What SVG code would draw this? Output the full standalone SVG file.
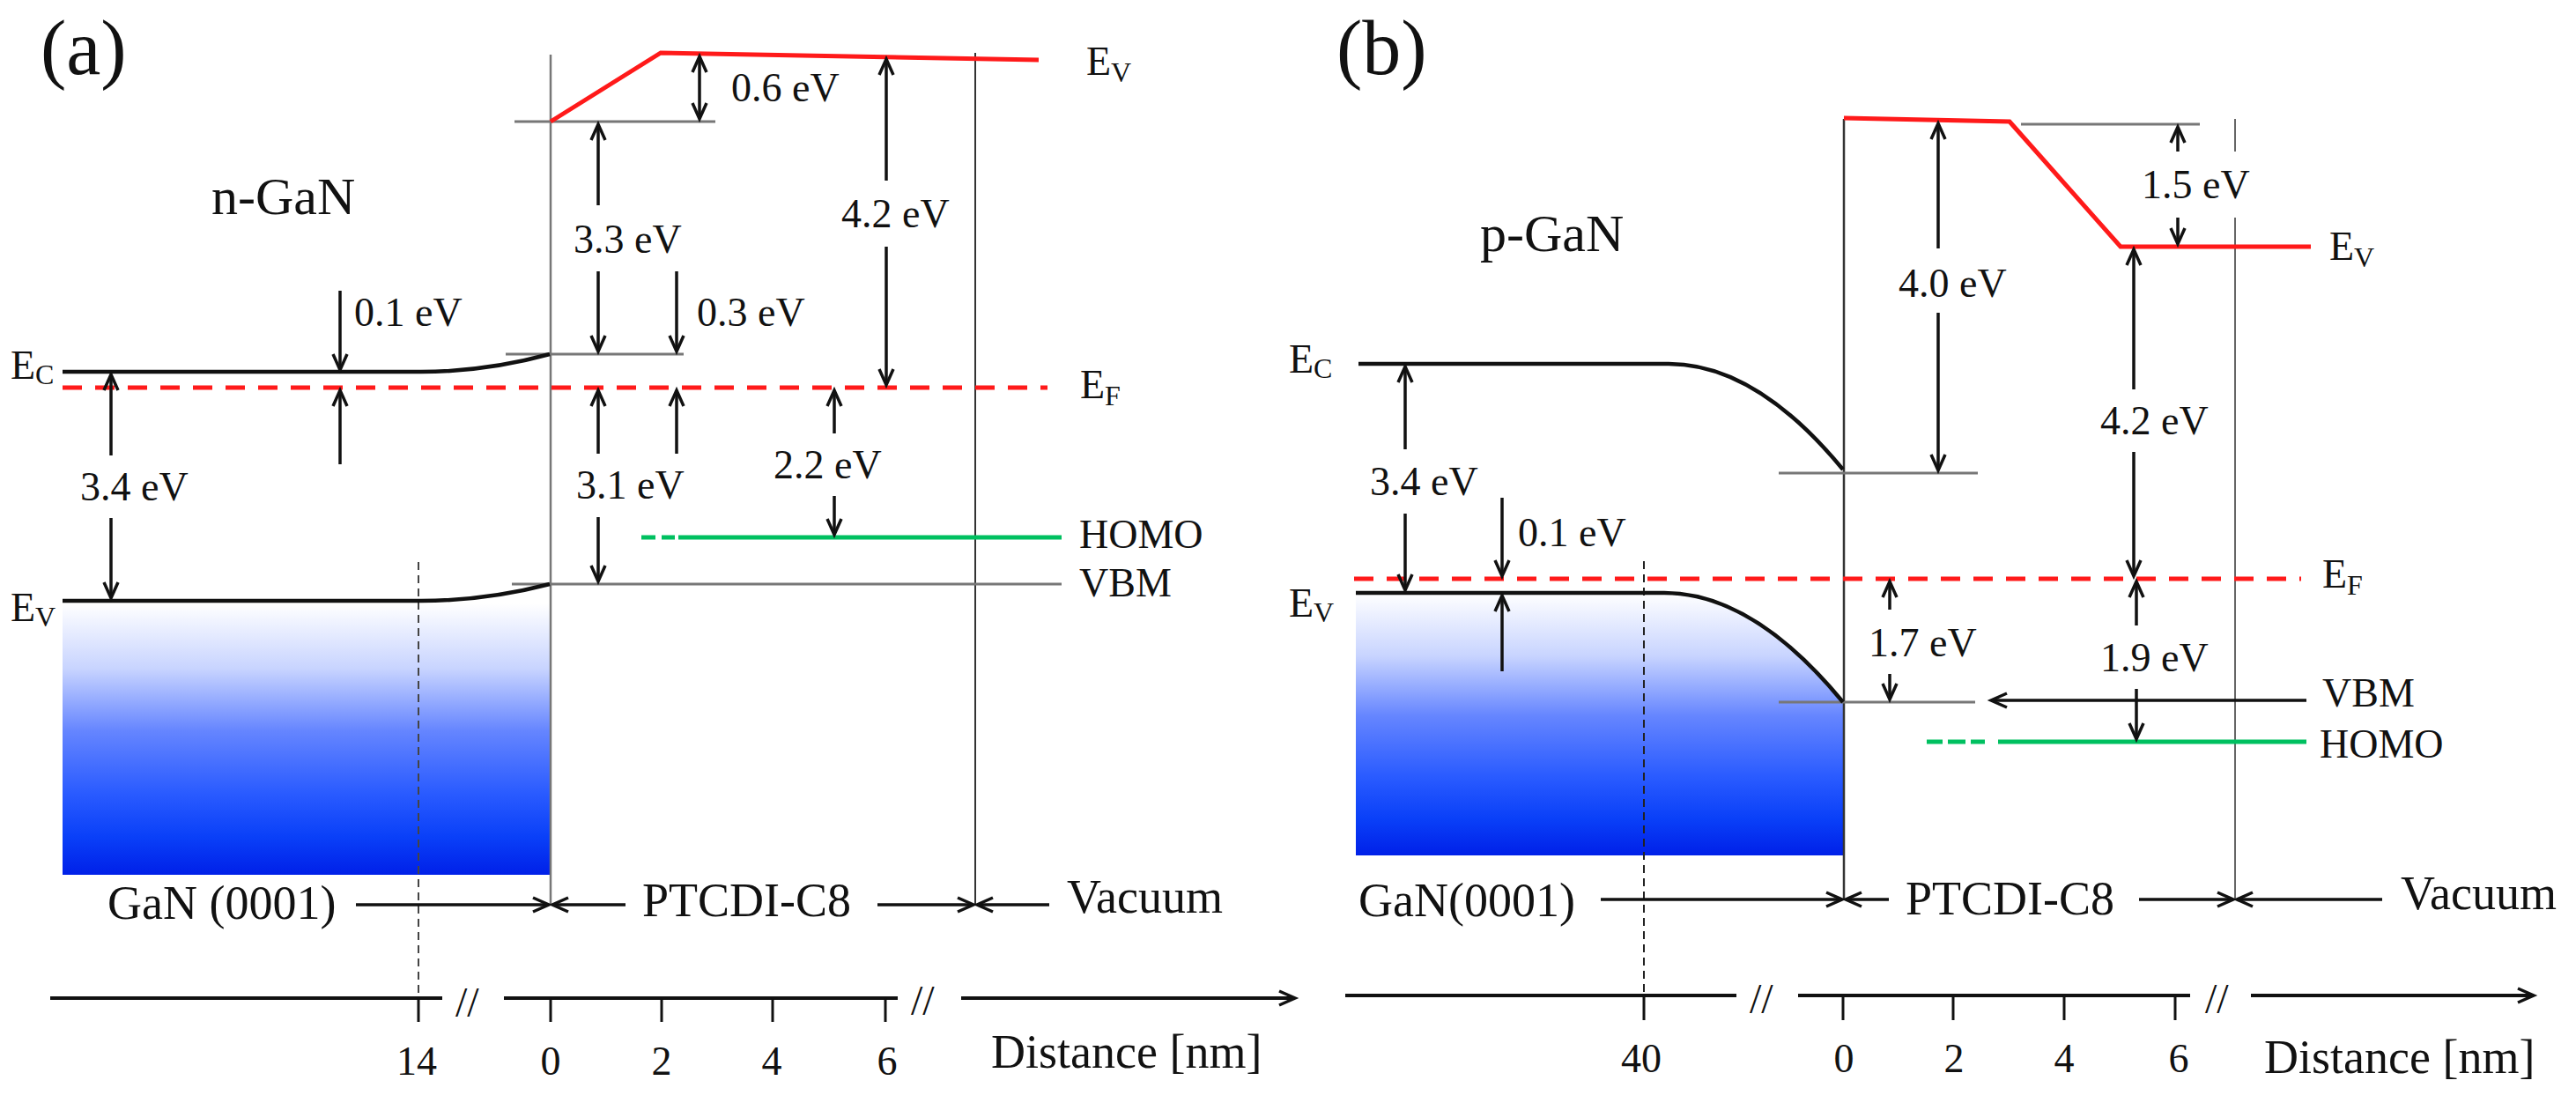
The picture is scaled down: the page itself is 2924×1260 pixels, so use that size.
<svg xmlns="http://www.w3.org/2000/svg" width="2924" height="1260" viewBox="0 0 2924 1260">
<style>
.t{font-family:"Liberation Serif","Times New Roman",serif;fill:#111}
.ev{font-size:46px}
.lab{font-size:54px}
.big{font-size:88px}
.gan{font-size:60px}
.sub{font-size:32px}
.tk{font-size:46px;text-anchor:middle}
.band{fill:none;stroke:#111;stroke-width:4.5}
.lvl{fill:none;stroke:#777;stroke-width:3}
.ifc{fill:none;stroke:#777;stroke-width:2.5}
.vac{fill:none;stroke:#333;stroke-width:2}
.red{fill:none;stroke:#ff1a1a;stroke-width:5}
.ef{fill:none;stroke:#ff1a1a;stroke-width:5;stroke-dasharray:22 15}
.homo{fill:none;stroke:#00c060;stroke-width:5}
.dv{fill:none;stroke:#444;stroke-width:2;stroke-dasharray:9 6}
.ar{fill:none;stroke:#111;stroke-width:3.5;marker-end:url(#ah)}
.ar2{fill:none;stroke:#111;stroke-width:3.5;marker-end:url(#ah);marker-start:url(#ah)}
.ax{fill:none;stroke:#111;stroke-width:4}
.tick{fill:none;stroke:#111;stroke-width:3}
</style>
<defs>
<marker id="ah" markerUnits="userSpaceOnUse" markerWidth="30" markerHeight="30" viewBox="-25 -15 30 30" refX="0" refY="0" orient="auto-start-reverse" overflow="visible">
<path d="M-18,-8 L0,0 L-18,8" fill="none" stroke="#111" stroke-width="3.5"/>
</marker>
<linearGradient id="gA" gradientUnits="userSpaceOnUse" x1="0" y1="685" x2="0" y2="993">
<stop offset="0" stop-color="#ffffff"/><stop offset="0.24" stop-color="#c8d4ff"/><stop offset="0.47" stop-color="#6585ff"/><stop offset="0.7" stop-color="#2a5bff"/><stop offset="0.86" stop-color="#0a40f8"/><stop offset="1" stop-color="#0020e8"/>
</linearGradient>
<linearGradient id="gB" gradientUnits="userSpaceOnUse" x1="0" y1="673" x2="0" y2="971">
<stop offset="0" stop-color="#ffffff"/><stop offset="0.24" stop-color="#c8d4ff"/><stop offset="0.47" stop-color="#6585ff"/><stop offset="0.7" stop-color="#2a5bff"/><stop offset="0.86" stop-color="#0a40f8"/><stop offset="1" stop-color="#0020e8"/>
</linearGradient>
</defs>
<rect width="2924" height="1260" fill="#fff"/>

<!-- ============ Panel (a) ============ -->
<g id="panel-a">
<g id="a-gan-region">
<rect x="71" y="685" width="553" height="308" fill="url(#gA)"/>
<line class="dv" x1="475" y1="638" x2="475" y2="1160"/>
</g>
<g id="a-interfaces">
<line class="ifc" x1="625" y1="62" x2="625" y2="1027"/>
<line class="vac" x1="1107" y1="60" x2="1107" y2="1027"/>
</g>
<g id="a-levels">
<line class="lvl" x1="584" y1="138" x2="812" y2="138"/>
<line class="lvl" x1="574" y1="402" x2="776" y2="402"/>
<line class="lvl" x1="581" y1="663" x2="1205" y2="663"/>
<path class="band" d="M71,422 L478,422 Q551,422 624,402"/>
<path class="band" d="M71,682 L478,682 Q551,682 624,663"/>
<polyline class="red" points="625,138 750,60 1179,68"/>
<line class="ef" x1="71" y1="440" x2="1189" y2="440"/>
<line class="homo" x1="770" y1="610" x2="1205" y2="610"/>
<line class="homo" x1="728" y1="610" x2="744" y2="610"/>
<line class="homo" x1="751" y1="610" x2="766" y2="610"/>
</g>
<g id="a-labels">
<text class="t big" x="46" y="84">(a)</text>
<text class="t gan" x="240" y="243">n-GaN</text>
<text class="t ev" x="12" y="430">E<tspan class="sub" dy="6">C</tspan></text>
<text class="t ev" x="12" y="705">E<tspan class="sub" dy="6">V</tspan></text>
<text class="t ev" x="1233" y="85">E<tspan class="sub" dy="8">V</tspan></text>
<text class="t ev" x="1226" y="452">E<tspan class="sub" dy="8">F</tspan></text>
<text class="t ev" x="1225" y="622">HOMO</text>
<text class="t ev" x="1225" y="677">VBM</text>
<text class="t ev" x="402" y="370">0.1 eV</text>
<text class="t ev" x="91" y="568">3.4 eV</text>
<text class="t ev" x="651" y="287">3.3 eV</text>
<text class="t ev" x="830" y="115">0.6 eV</text>
<text class="t ev" x="955" y="258">4.2 eV</text>
<text class="t ev" x="791" y="370">0.3 eV</text>
<text class="t ev" x="654" y="566">3.1 eV</text>
<text class="t ev" x="878" y="543">2.2 eV</text>
<text class="t lab" x="122" y="1043">GaN (0001)</text>
<text class="t lab" x="729" y="1040">PTCDI-C8</text>
<text class="t lab" x="1211" y="1036">Vacuum</text>
</g>
<g id="a-axis">
<line class="ax" x1="57" y1="1133" x2="502" y2="1133"/>
<line class="ax" x1="572" y1="1133" x2="1019" y2="1133"/>
<line class="ax" x1="1091" y1="1133" x2="1470" y2="1133" style="marker-end:url(#ah)"/>
<text class="t" x="1034" y="1152" font-size="48">//</text>
<text class="t" x="517" y="1154" font-size="48">//</text>
<line class="tick" x1="475" y1="1133" x2="475" y2="1160"/>
<line class="tick" x1="625" y1="1133" x2="625" y2="1160"/>
<line class="tick" x1="751" y1="1133" x2="751" y2="1160"/>
<line class="tick" x1="877" y1="1133" x2="877" y2="1160"/>
<line class="tick" x1="1005" y1="1133" x2="1005" y2="1160"/>
<text class="t tk" x="473" y="1220">14</text>
<text class="t tk" x="625" y="1220">0</text>
<text class="t tk" x="751" y="1220">2</text>
<text class="t tk" x="876" y="1220">4</text>
<text class="t tk" x="1007" y="1220">6</text>
<text class="t lab" x="1125" y="1212">Distance [nm]</text>
</g>
</g>

<!-- ============ Panel (b) ============ -->
<g id="panel-b">
<g id="b-gan-region">
<path d="M1539,673 L1889,673 Q1990,673 2092,797 L2092,971 L1539,971 Z" fill="url(#gB)"/>
<line class="dv" x1="1866" y1="637" x2="1866" y2="1158" style="stroke:#222"/>
</g>
<g id="b-interfaces">
<line class="ifc" x1="2093" y1="135" x2="2093" y2="1022" style="stroke:#333"/>
<line class="ifc" x1="2537" y1="135" x2="2537" y2="172" style="stroke:#666;stroke-width:2"/>
<line class="ifc" x1="2537" y1="247" x2="2537" y2="1022" style="stroke:#666;stroke-width:2"/>
</g>
<g id="b-levels">
<line class="lvl" x1="2294" y1="141" x2="2497" y2="141"/>
<line class="lvl" x1="2019" y1="537" x2="2245" y2="537"/>
<line class="lvl" x1="2019" y1="797" x2="2242" y2="797"/>
<path class="band" d="M1542,413 L1894,413 Q1993,413 2092,533"/>
<path class="band" d="M1539,673 L1889,673 Q1990,673 2092,797"/>
<polyline class="red" points="2093,134 2281,138 2407,280 2623,280"/>
<line class="ef" x1="1537" y1="657" x2="2612" y2="657"/>
<line class="homo" x1="2268" y1="842" x2="2618" y2="842"/>
<line class="homo" x1="2187" y1="842" x2="2205" y2="842"/>
<line class="homo" x1="2211" y1="842" x2="2231" y2="842"/>
<line class="homo" x1="2237" y1="842" x2="2253" y2="842"/>
</g>
<g id="b-labels">
<text class="t big" x="1517" y="84">(b)</text>
<text class="t gan" x="1680" y="285">p-GaN</text>
<text class="t ev" x="1463" y="423">E<tspan class="sub" dy="6">C</tspan></text>
<text class="t ev" x="1463" y="700">E<tspan class="sub" dy="6">V</tspan></text>
<text class="t ev" x="2644" y="295">E<tspan class="sub" dy="8">V</tspan></text>
<text class="t ev" x="2636" y="667">E<tspan class="sub" dy="8">F</tspan></text>
<text class="t ev" x="2636" y="802">VBM</text>
<text class="t ev" x="2633" y="860">HOMO</text>
<text class="t ev" x="1555" y="562">3.4 eV</text>
<text class="t ev" x="1723" y="620">0.1 eV</text>
<text class="t ev" x="2155" y="337">4.0 eV</text>
<text class="t ev" x="2431" y="225">1.5 eV</text>
<text class="t ev" x="2384" y="493">4.2 eV</text>
<text class="t ev" x="2121" y="745">1.7 eV</text>
<text class="t ev" x="2384" y="762">1.9 eV</text>
<text class="t lab" x="1542" y="1040">GaN(0001)</text>
<text class="t lab" x="2163" y="1038">PTCDI-C8</text>
<text class="t lab" x="2725" y="1032">Vacuum</text>
</g>
<g id="b-axis">
<line class="ax" x1="1527" y1="1130" x2="1971" y2="1130"/>
<line class="ax" x1="2041" y1="1130" x2="2486" y2="1130"/>
<line class="ax" x1="2555" y1="1130" x2="2876" y2="1130" style="marker-end:url(#ah)"/>
<text class="t" x="1986" y="1150" font-size="48">//</text>
<text class="t" x="2503" y="1150" font-size="48">//</text>
<line class="tick" x1="1866" y1="1130" x2="1866" y2="1158"/>
<line class="tick" x1="2092" y1="1130" x2="2092" y2="1158"/>
<line class="tick" x1="2217" y1="1130" x2="2217" y2="1158"/>
<line class="tick" x1="2343" y1="1130" x2="2343" y2="1158"/>
<line class="tick" x1="2469" y1="1130" x2="2469" y2="1158"/>
<text class="t tk" x="1863" y="1217">40</text>
<text class="t tk" x="2093" y="1217">0</text>
<text class="t tk" x="2218" y="1217">2</text>
<text class="t tk" x="2343" y="1217">4</text>
<text class="t tk" x="2473" y="1217">6</text>
<text class="t lab" x="2570" y="1218">Distance [nm]</text>
</g>
</g>

<!-- ============ Connectors (dimension arrows) ============ -->
<g id="connectors">
<!-- panel a -->
<line class="ar" x1="386" y1="330" x2="386" y2="420"/>
<line class="ar" x1="386" y1="527" x2="386" y2="443"/>
<line class="ar" x1="126" y1="517" x2="126" y2="425"/>
<line class="ar" x1="126" y1="588" x2="126" y2="679"/>
<line class="ar" x1="679" y1="233" x2="679" y2="141"/>
<line class="ar" x1="679" y1="308" x2="679" y2="399"/>
<line class="ar" x1="768" y1="308" x2="768" y2="399"/>
<line class="ar" x1="768" y1="515" x2="768" y2="443"/>
<line class="ar" x1="679" y1="515" x2="679" y2="443"/>
<line class="ar" x1="679" y1="587" x2="679" y2="660"/>
<line class="ar2" x1="794" y1="64" x2="794" y2="135"/>
<line class="ar" x1="1006" y1="205" x2="1006" y2="67"/>
<line class="ar" x1="1006" y1="280" x2="1006" y2="437"/>
<line class="ar" x1="947" y1="492" x2="947" y2="443"/>
<line class="ar" x1="947" y1="563" x2="947" y2="607"/>
<line class="ar" x1="404" y1="1027" x2="623" y2="1027"/>
<line class="ar" x1="710" y1="1027" x2="627" y2="1027"/>
<line class="ar" x1="996" y1="1027" x2="1105" y2="1027"/>
<line class="ar" x1="1191" y1="1027" x2="1109" y2="1027"/>
<!-- panel b -->
<line class="ar" x1="1595" y1="510" x2="1595" y2="416"/>
<line class="ar" x1="1595" y1="583" x2="1595" y2="670"/>
<line class="ar" x1="1705" y1="565" x2="1705" y2="654"/>
<line class="ar" x1="1705" y1="762" x2="1705" y2="676"/>
<line class="ar" x1="2200" y1="282" x2="2200" y2="140"/>
<line class="ar" x1="2200" y1="355" x2="2200" y2="534"/>
<line class="ar" x1="2472" y1="172" x2="2472" y2="144"/>
<line class="ar" x1="2472" y1="247" x2="2472" y2="277"/>
<line class="ar" x1="2422" y1="442" x2="2422" y2="283"/>
<line class="ar" x1="2422" y1="513" x2="2422" y2="654"/>
<line class="ar" x1="2145" y1="692" x2="2145" y2="660"/>
<line class="ar" x1="2145" y1="765" x2="2145" y2="794"/>
<line class="ar" x1="2425" y1="710" x2="2425" y2="660"/>
<line class="ar" x1="2425" y1="782" x2="2425" y2="839"/>
<line class="ar" x1="2618" y1="795" x2="2260" y2="795"/>
<line class="ar" x1="1817" y1="1021" x2="2091" y2="1021"/>
<line class="ar" x1="2144" y1="1021" x2="2095" y2="1021"/>
<line class="ar" x1="2428" y1="1021" x2="2535" y2="1021"/>
<line class="ar" x1="2704" y1="1021" x2="2539" y2="1021"/>
</g>
</svg>
